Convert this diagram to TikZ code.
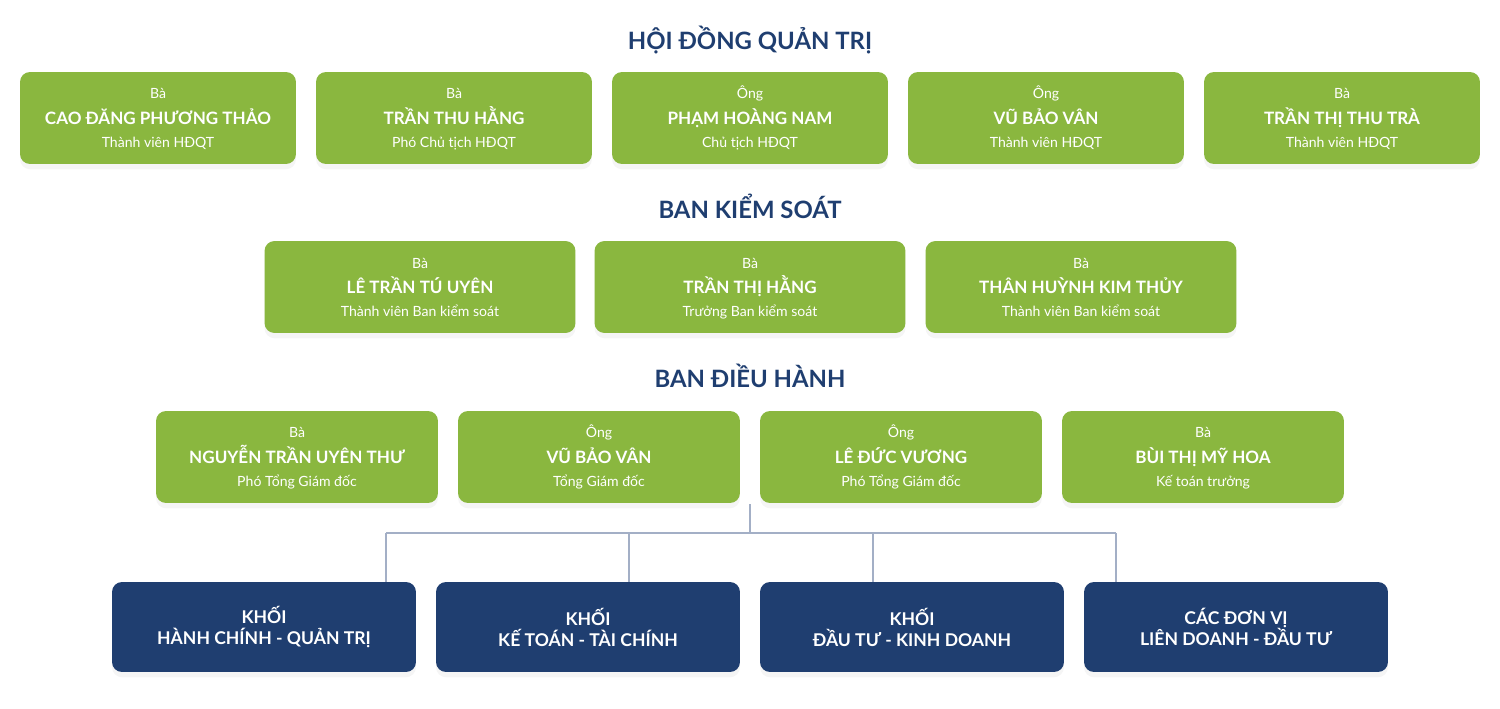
\documentclass[tikz,border=0pt]{standalone}
\usepackage{fontspec}
\setmainfont{Lato}
\usepackage{tikz}
\usetikzlibrary{shadows}
\definecolor{boardgreen}{HTML}{8AB73F}
\definecolor{unitblue}{HTML}{1F3E70}
\definecolor{linkgray}{HTML}{A3AFC6}

\begin{document}
\begin{tikzpicture}[
  x=0.02cm, y=-0.02cm,
  card/.style={fill=boardgreen, rounded corners=0.2cm, minimum height=1.84cm,
    drop shadow={opacity=0.08, shadow xshift=0pt, shadow yshift=-3pt}},
  unit/.style={fill=unitblue, rounded corners=0.2cm, minimum width=6.08cm, minimum height=1.8cm,
    text=white, align=center, font=\fontsize{10}{12}\selectfont\bfseries,
    drop shadow={opacity=0.08, shadow xshift=0pt, shadow yshift=-3pt}},
  head/.style={text=unitblue, inner sep=0pt, text height=0.72em, text depth=0pt, font=\fontsize{13.6}{16}\selectfont\bfseries},
  hon/.style={text=white, inner sep=0pt, text height=0.7em, text depth=0.1em, font=\fontsize{8}{9}\selectfont},
  nm/.style={text=white, inner sep=0pt, text height=0.72em, text depth=0pt, font=\fontsize{9.7}{11}\selectfont\bfseries},
  link/.style={draw=linkgray, line width=1.1pt}
]
  \useasboundingbox (0,0) rectangle (1500,709);

  \node[head] (t-hd) at (750,43) {HỘI ĐỒNG QUẢN TRỊ};
  \foreach \x/\h/\n/\r [count=\i] in {158/Bà/CAO ĐĂNG PHƯƠNG THẢO/Thành viên HĐQT,
      454/Bà/TRẦN THU HẰNG/Phó Chủ tịch HĐQT, 750/Ông/PHẠM HOÀNG NAM/Chủ tịch HĐQT,
      1046/Ông/VŨ BẢO VÂN/Thành viên HĐQT, 1342/Bà/TRẦN THỊ THU TRÀ/Thành viên HĐQT} {
    \node[card, minimum width=5.52cm] (hd\i) at (\x,118) {};
    \node[hon] (hd\i-h) at (\x,93) {\h};
    \node[nm] (hd\i-n) at (\x,118) {\n};
    \node[hon] (hd\i-r) at (\x,142) {\r};
  }

  \node[head] (t-ks) at (750,212) {BAN KIỂM SOÁT};
  \foreach \x/\h/\n/\r [count=\i] in {420/Bà/LÊ TRẦN TÚ UYÊN/Thành viên Ban kiểm soát,
      750/Bà/TRẦN THỊ HẰNG/Trưởng Ban kiểm soát, 1081/Bà/THÂN HUỲNH KIM THỦY/Thành viên Ban kiểm soát} {
    \node[card, minimum width=6.22cm] (ks\i) at (\x,287) {};
    \node[hon] (ks\i-h) at (\x,263) {\h};
    \node[nm] (ks\i-n) at (\x,287) {\n};
    \node[hon] (ks\i-r) at (\x,311) {\r};
  }

  \node[head] (t-dh) at (750,381) {BAN ĐIỀU HÀNH};
  \foreach \x/\h/\n/\r [count=\i] in {297/Bà/NGUYỄN TRẦN UYÊN THƯ/Phó Tổng Giám đốc,
      599/Ông/VŨ BẢO VÂN/Tổng Giám đốc, 901/Ông/LÊ ĐỨC VƯƠNG/Phó Tổng Giám đốc,
      1203/Bà/BÙI THỊ MỸ HOA/Kế toán trưởng} {
    \node[card, minimum width=5.64cm] (dh\i) at (\x,457) {};
    \node[hon] (dh\i-h) at (\x,432) {\h};
    \node[nm] (dh\i-n) at (\x,457) {\n};
    \node[hon] (dh\i-r) at (\x,481) {\r};
  }

  \foreach \x/\t [count=\i] in {264/KHỐI\\HÀNH CHÍNH - QUẢN TRỊ, 588/KHỐI\\KẾ TOÁN - TÀI CHÍNH,
      912/KHỐI\\ĐẦU TƯ - KINH DOANH, 1236/CÁC ĐƠN VỊ\\LIÊN DOANH - ĐẦU TƯ} {
    \node[unit] (kh\i) at (\x,627) {\t};
  }

  \coordinate (split) at (750,504);
  \coordinate (bus) at (750,533);
  \draw[link] (split) -- (bus);
  \foreach \x [count=\i] in {386,629,873,1116} {
    \coordinate (drop\i) at (\x,533);
    \draw[link] (drop\i) -- (drop\i |- kh\i.north);
  }
  \draw[link] (drop1) -- (drop4);
\end{tikzpicture}
\end{document}
